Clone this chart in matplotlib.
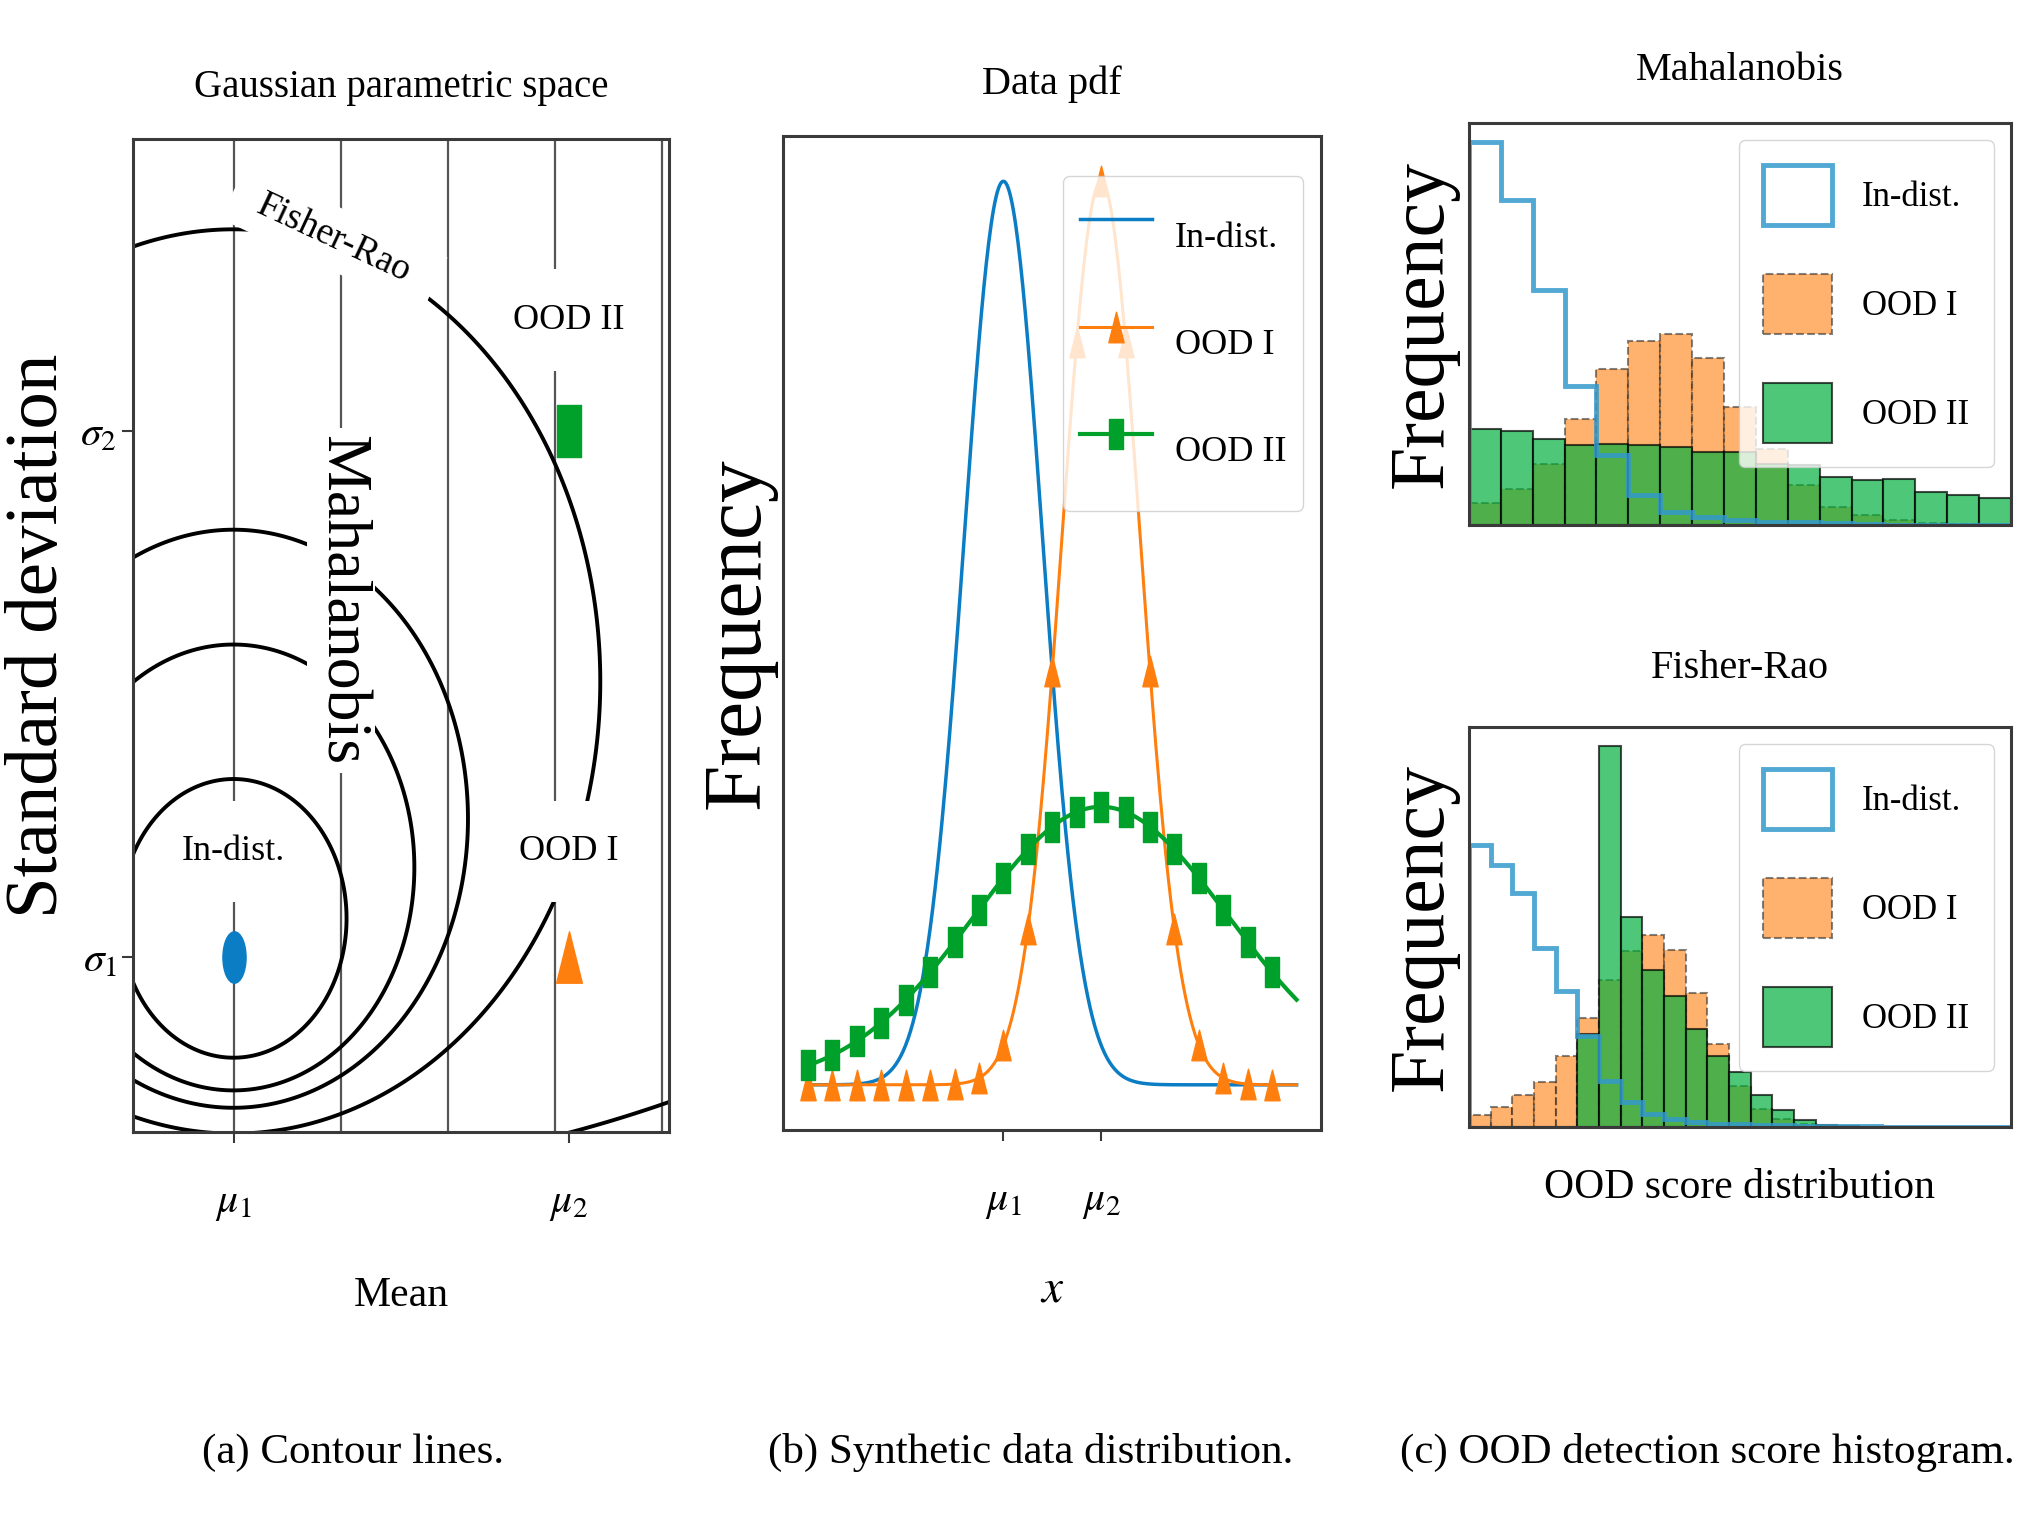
import numpy as np
import matplotlib
matplotlib.use('Agg')
import matplotlib.pyplot as plt
from matplotlib.path import Path
from matplotlib.transforms import Affine2D

plt.rcParams['font.family'] = ['Liberation Serif', 'DejaVu Serif']
plt.rcParams['mathtext.fontset'] = 'stix'

# --- data ---------------------------------------------------------------
# gaussians: in-distribution, OOD I, OOD II
names = ['In-dist.', 'OOD I', 'OOD II']
means = [0.0, 1.0, 1.0]
stds = [0.4, 0.4, 1.3]
colors = ['#0b7dc4', '#ff7f0e', '#00a12b']

# contour levels in the (mean, std) plane
fr_levels = [0.8, 1.2, 1.47, 2.0, 4.0]
maha_levels = [0.0, 0.8, 1.6, 2.4, 3.2]

# histogram bar heights (score bins, arbitrary units)
maha_in = [1155, 980, 710, 420, 210, 90, 40, 25, 15, 10, 8, 5, 2, 0, 0, 0, 0]
maha_ood1 = [65, 110, 185, 320, 470, 555, 575, 505, 355, 230, 120, 55, 30, 15, 5, 3, 0]
maha_ood2 = [290, 285, 260, 240, 245, 240, 235, 220, 220, 185, 180, 145, 135, 140, 100, 90, 80]

fr_in = [850, 790, 705, 540, 410, 275, 140, 75, 40, 25, 15, 10, 8, 6, 5, 4, 4, 3, 3, 0, 0, 0, 0, 0, 0]
fr_ood1 = [35, 60, 95, 135, 215, 330, 445, 530, 580, 535, 405, 250, 125, 55, 25, 10, 3, 0, 0, 0, 0, 0, 0, 0, 0]
fr_ood2 = [0, 0, 0, 0, 0, 280, 1150, 635, 475, 395, 295, 215, 165, 95, 50, 20, 5, 2, 0, 0, 0, 0, 0, 0, 0]

hist_colors = ['#3399cc', '#ff7f0e', '#00af3c']

# narrow markers (the figure is squeezed horizontally)
squeeze = Affine2D().scale(0.45, 1.0)
m_dot = Path.unit_circle().transformed(squeeze)
m_tri = Path([(0, 1), (-0.5, -1), (0.5, -1), (0, 1)], closed=True)
m_sq = Path([(-0.45, -1), (0.45, -1), (0.45, 1), (-0.45, 1), (-0.45, -1)], closed=True)
markers = [m_dot, m_tri, m_sq]


def padded_box(padx, pady):
    # white box behind a label, with separate padding along and across the text
    def box(x0, y0, width, height, mutation_size):
        px, py = padx * mutation_size, pady * mutation_size
        xa, ya = x0 - px, y0 - py
        xb, yb = x0 + width + px, y0 + height + py
        return Path([(xa, ya), (xb, ya), (xb, yb), (xa, yb), (xa, ya)], closed=True)
    return box


fig = plt.figure(figsize=(20.43, 15.32), dpi=100)


def style_spines(ax):
    for s in ax.spines.values():
        s.set_color('#3a3a3a')
        s.set_linewidth(2.2)


# --- (a) contour lines --------------------------------------------------
ax1 = fig.add_axes([0.0651, 0.2611, 0.2624, 0.6482])
mu = np.linspace(-0.35, 1.35, 700)
sg = np.linspace(0.05, 1.85, 700)
M, S = np.meshgrid(mu, sg)
fisher = np.sqrt(2) * np.arccosh(1 + ((M - means[0]) ** 2 / 2 + (S - stds[0]) ** 2) / (2 * S * stds[0]))
maha = (M - means[0]) / stds[0]
ax1.contour(M, S, maha, levels=maha_levels, colors='#555555', linewidths=1.6)
ax1.contour(M, S, fisher, levels=fr_levels, colors='black', linewidths=2.8)
for i in range(3):
    ax1.plot(means[i], stds[i], ls='none', marker=markers[i], ms=37,
             color=colors[i], zorder=5)
label_box = dict(boxstyle=padded_box(0.1, 0.95), fc='white', ec='none')
ax1.text(means[0], 0.58, 'In-dist.', ha='center', va='center', fontsize=26, bbox=label_box)
ax1.text(means[1], 0.58, 'OOD I', ha='center', va='center', fontsize=26, bbox=label_box)
ax1.text(means[2], 1.49, 'OOD II', ha='center', va='center', fontsize=26, bbox=label_box)
ax1.text(0.32, 1.01, 'Mahalanobis', rotation=270, ha='center', va='center', fontsize=46,
         bbox=dict(boxstyle=padded_box(0.12, 0.08), fc='white', ec='none'))
ax1.text(0.30, 1.63, 'Fisher-Rao', rotation=-25, ha='center', va='center', fontsize=27,
         bbox=dict(boxstyle=padded_box(0.75, 0.35), fc='white', ec='none'))
ax1.set_xlim(-0.3, 1.3)
ax1.set_ylim(0.1, 1.8)
ax1.set_xticks([means[0], means[1]])
ax1.set_xticklabels([r'$\mu_1$', r'$\mu_2$'])
ax1.set_yticks([stds[0], stds[2]])
ax1.set_yticklabels([r'$\sigma_1$', r'$\sigma_2$'])
ax1.tick_params(labelsize=30, length=8, width=1.5, color='#3a3a3a')
ax1.tick_params(axis='x', pad=30)
ax1.set_xlabel('Mean', fontsize=30, labelpad=38)
ax1.set_ylabel('Standard deviation', fontsize=54)
ax1.yaxis.set_label_coords(-0.112, 0.5)
ax1.set_title('Gaussian parametric space', fontsize=28, pad=30)
style_spines(ax1)

# --- (b) synthetic data distribution ------------------------------------
ax2 = fig.add_axes([0.3835, 0.2624, 0.2631, 0.6488])
x = np.linspace(-2, 3, 401)
every = slice(0, 400, 20)
for i in range(3):
    pdf = np.exp(-(x - means[i]) ** 2 / (2 * stds[i] ** 2)) / (stds[i] * np.sqrt(2 * np.pi))
    if i == 0:
        ax2.plot(x, pdf, color=colors[i], lw=2.5, label=names[i])
    else:
        ax2.plot(x, pdf, color=colors[i], lw=2.2 if i == 1 else 3.0, marker=markers[i],
                 ms=22, markevery=every, label=names[i])
ax2.set_xticks([means[0], means[1]])
ax2.set_xticklabels([r'$\mu_1$', r'$\mu_2$'])
ax2.set_yticks([])
ax2.tick_params(labelsize=30, length=8, width=1.5, color='#3a3a3a', pad=30)
ax2.set_xlabel('$x$', fontsize=34, labelpad=34)
ax2.set_ylabel('Frequency', fontsize=60)
ax2.yaxis.set_label_coords(-0.012, 0.5)
ax2.set_title('Data pdf', fontsize=29, pad=30)
ax2.legend(loc='upper right', fontsize=26, handlelength=2.0, handleheight=3.4,
           handletextpad=0.65, labelspacing=0.51, borderpad=0.45,
           bbox_to_anchor=(1.0, 0.978))
style_spines(ax2)


# --- (c) OOD detection score histograms ---------------------------------
def score_hist(ax, vin, vood1, vood2, title, tpad):
    edges = np.arange(len(vin) + 1)
    left = edges[:-1]
    ax.hist(left, bins=edges, weights=vin, histtype='step', color=hist_colors[0],
            lw=3.5, alpha=0.85, label=names[0])
    ax.hist(left, bins=edges, weights=vood1, histtype='bar', color=hist_colors[1],
            alpha=0.6, edgecolor='#333333', linestyle='--', lw=1.5, label=names[1])
    ax.hist(left, bins=edges, weights=vood2, histtype='bar', color=hist_colors[2],
            alpha=0.69, edgecolor='black', lw=1.5, label=names[2])
    ax.set_xlim(edges[0], edges[-1])
    ax.set_xticks([])
    ax.set_yticks([])
    ax.set_ylabel('Frequency', fontsize=56)
    ax.yaxis.set_label_coords(-0.018, 0.5)
    ax.set_title(title, fontsize=29, pad=tpad)
    ax.legend(loc='upper right', fontsize=25, handlelength=2.0, handleheight=2.3,
              handletextpad=0.86, labelspacing=1.4, borderpad=0.7)
    style_spines(ax)


ax3 = fig.add_axes([0.7190, 0.6573, 0.2653, 0.2624])
score_hist(ax3, maha_in, maha_ood1, maha_ood2, 'Mahalanobis', 31)
ax4 = fig.add_axes([0.7190, 0.2644, 0.2653, 0.2611])
score_hist(ax4, fr_in, fr_ood1, fr_ood2, 'Fisher-Rao', 35)
ax4.set_xlabel('OOD score distribution', fontsize=30, labelpad=30)

# --- captions -----------------------------------------------------------
fig.text(0.173, 0.0516, '(a) Contour lines.', ha='center', va='center', fontsize=31)
fig.text(0.5047, 0.0516, '(b) Synthetic data distribution.', ha='center', va='center', fontsize=31)
fig.text(0.8355, 0.0516, '(c) OOD detection score histogram.', ha='center', va='center', fontsize=31)

fig.savefig('out.png', dpi=100)
